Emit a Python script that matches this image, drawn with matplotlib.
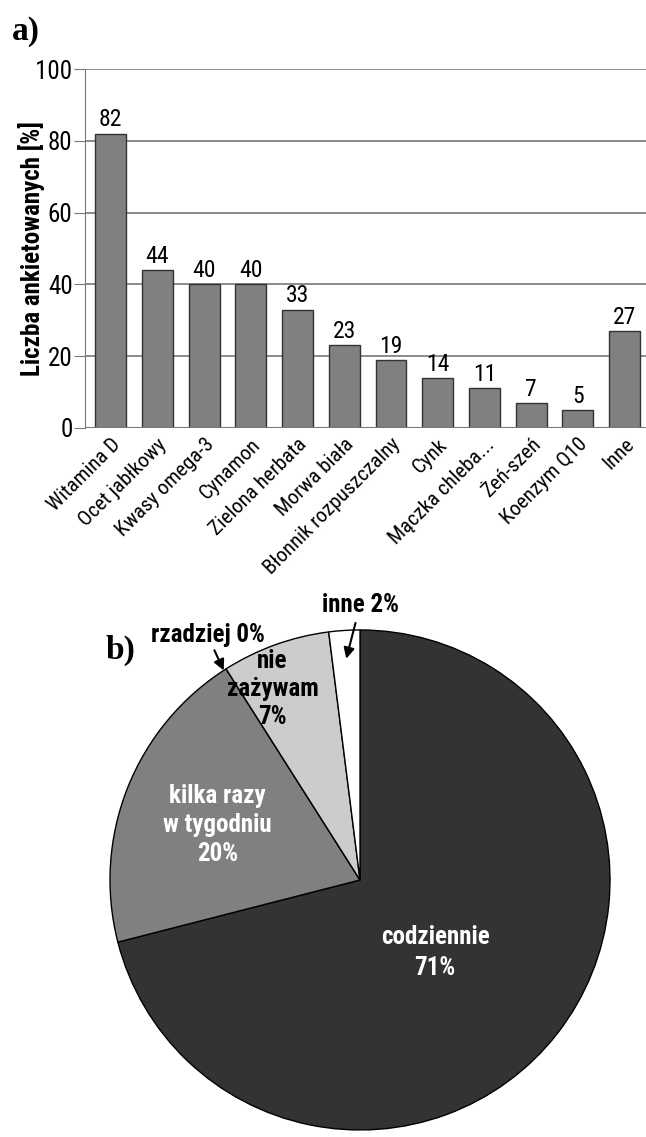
import matplotlib
matplotlib.use("Agg")
import matplotlib.pyplot as plt
from matplotlib import font_manager as fm

names = {f.name for f in fm.fontManager.ttflist}
cands = ['Liberation Sans Narrow', 'Roboto Condensed', 'DejaVu Sans Condensed', 'Liberation Sans']
font = next((c for c in cands if c in names), 'DejaVu Sans')
plt.rcParams['font.family'] = [font, 'DejaVu Sans']

categories = ['Witamina D', 'Ocet jabłkowy', 'Kwasy omega-3', 'Cynamon', 'Zielona herbata',
              'Morwa biała', 'Błonnik rozpuszczalny', 'Cynk', 'Mączka chleba...', 'Żeń-szeń',
              'Koenzym Q10', 'Inne']
values = [82, 44, 40, 40, 33, 23, 19, 14, 11, 7, 5, 27]
yticks = [0, 20, 40, 60, 80, 100]

pie_labels = ['codziennie\n71%', 'kilka razy\nw tygodniu\n20%', '', 'nie\nzażywam\n7%', '']
pie_values = [71, 20, 0, 7, 2]
pie_colors = ['#333333', '#808080', '#aaaaaa', '#cccccc', '#ffffff']

fig = plt.figure(figsize=(6.46, 11.37), dpi=100)

ax = fig.add_axes([0.1316, 0.6236, 0.8684, 0.3157])
x = list(range(len(categories)))
ax.bar(x, values, width=0.66, color='#808080', edgecolor='#333333', linewidth=1, zorder=3)
ax.set_xlim(-0.55, 11.46)
ax.set_ylim(0, 100)
ax.set_yticks(yticks)
ax.set_yticklabels([str(v) for v in yticks], fontsize=18)
ax.yaxis.grid(True, color='#777777', linewidth=1.2, zorder=0)
for s in ['top', 'right', 'bottom']:
    ax.spines[s].set_visible(False)
ax.spines['left'].set_color('#777777')
ax.axhline(0, color='#777777', linewidth=1.5, zorder=4)
ax.tick_params(axis='y', length=8, color='#777777', pad=1)
ax.set_xticks(x)
ax.set_xticklabels(categories, rotation=45, ha='right', rotation_mode='anchor', fontsize=15)
ax.tick_params(axis='x', length=0, pad=5)
for xi, v in zip(x, values):
    ax.text(xi, v + 0.6, str(v), ha='center', va='bottom', fontsize=17, zorder=5)
ax.set_ylabel('Liczba ankietowanych [%]', fontsize=18, fontweight='bold')
ax.yaxis.set_label_coords(-0.072, 0.5)

fig.text(0.018, 0.972, 'a)', fontsize=24, fontweight='bold', family='Liberation Serif', va='center')
fig.text(0.163, 0.428, 'b)', fontsize=24, fontweight='bold', family='Liberation Serif', va='center')

pax = fig.add_axes([0.1703, 0.00616, 0.774, 0.4398])
pax.pie(pie_values, colors=pie_colors, startangle=90, counterclock=False,
        wedgeprops=dict(edgecolor='black', linewidth=1))
pax.set_xlim(-1, 1)
pax.set_ylim(-1, 1)
pax.axis('off')

pax.text(0.30, -0.29, pie_labels[0], ha='center', va='center', color='white',
         fontsize=18, fontweight='bold', linespacing=1.35)
pax.text(-0.57, 0.22, pie_labels[1], ha='center', va='center', color='white',
         fontsize=18, fontweight='bold', linespacing=1.25)
pax.text(-0.35, 0.765, pie_labels[3], ha='center', va='center', color='black',
         fontsize=18, fontweight='bold', linespacing=1.2)

pax.annotate('rzadziej 0%', xy=(-0.545, 0.838), xytext=(-0.61, 0.93),
             ha='center', va='bottom', fontsize=18, fontweight='bold',
             arrowprops=dict(arrowstyle='-|>', color='black', lw=1.5, mutation_scale=16,
                             shrinkA=0, shrinkB=0),
             annotation_clip=False)
pax.annotate('inne 2%', xy=(-0.055, 0.885), xytext=(0.0, 1.05),
             ha='center', va='bottom', fontsize=18, fontweight='bold',
             arrowprops=dict(arrowstyle='-|>', color='black', lw=1.5, mutation_scale=16,
                             shrinkA=2, shrinkB=0),
             annotation_clip=False)

fig.savefig('out.png', dpi=100)
